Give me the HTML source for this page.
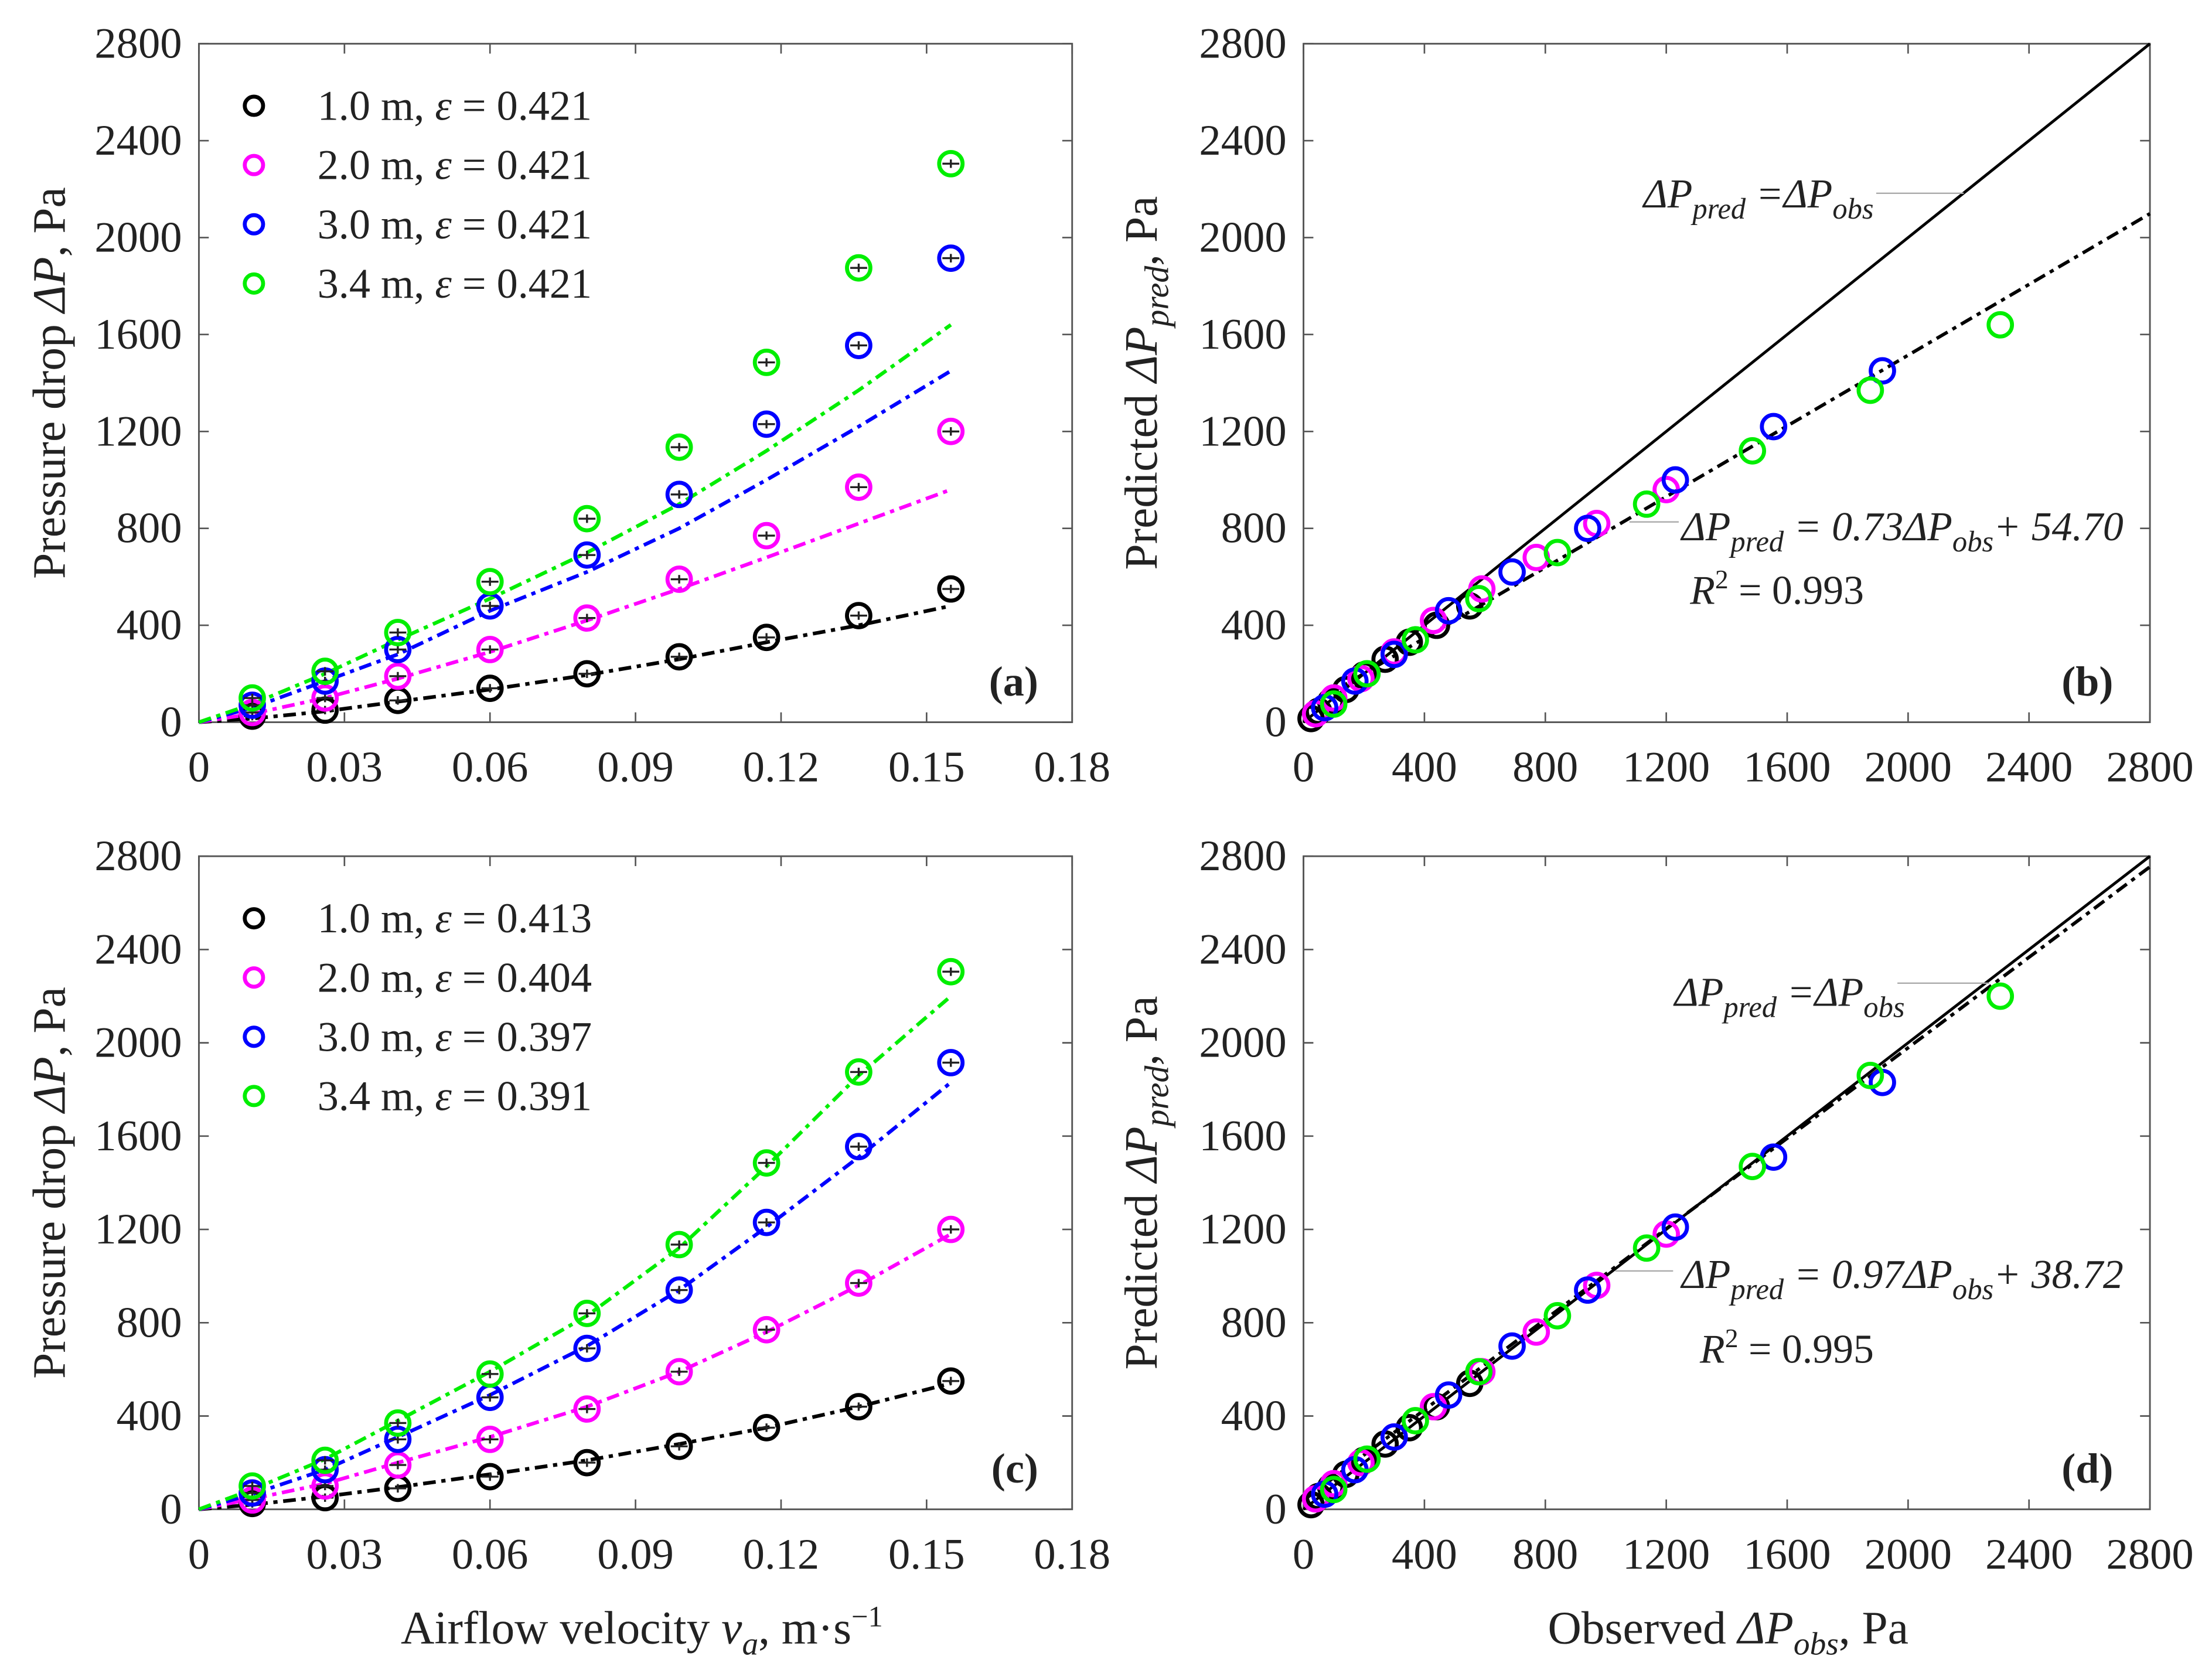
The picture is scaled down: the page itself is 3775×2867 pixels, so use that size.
<!DOCTYPE html>
<html><head><meta charset="utf-8"><style>
html,body{margin:0;padding:0;background:#fff;}
svg{display:block;font-family:"Liberation Serif","DejaVu Serif",serif;}
svg text{font-family:"Liberation Serif","DejaVu Serif",serif;fill:#222;}
</style></head><body>
<svg id="fig" width="3775" height="2867" viewBox="0 0 1568 1191" preserveAspectRatio="none" font-family="Liberation Serif, DejaVu Serif, serif" xmlns="http://www.w3.org/2000/svg"></svg>
<script>
// ---- data ----
const velocities = [0.011, 0.026, 0.041, 0.060, 0.080, 0.099, 0.117, 0.136, 0.155];
const fitVelocities = [0, 0.011, 0.026, 0.041, 0.060, 0.080, 0.099, 0.117, 0.136, 0.155];
const seriesColors = ['#000000', '#ff00ff', '#0000ff', '#00ee00'];
const legendA = ['1.0 m, ', '2.0 m, ', '3.0 m, ', '3.4 m, '];
const epsA = ['0.421', '0.421', '0.421', '0.421'];
const epsC = ['0.413', '0.404', '0.397', '0.391'];
const obs1 = [25, 50, 90, 140, 200, 270, 350, 440, 550];
const obs2 = [40, 100, 190, 300, 430, 590, 770, 970, 1200];
const obs3 = [70, 170, 300, 480, 690, 940, 1230, 1555, 1915];
const obs4 = [100, 210, 370, 580, 840, 1135, 1485, 1875, 2305];
const fitA1 = [0, 15, 45, 85, 135, 195, 260, 330, 400, 480];
const fitA2 = [0, 35, 100, 180, 290, 420, 550, 680, 820, 960];
const fitA3 = [0, 60, 170, 280, 460, 620, 800, 1000, 1220, 1450];
const fitA4 = [0, 75, 200, 340, 510, 700, 900, 1120, 1370, 1640];
const fitC1 = [0, 20, 55, 95, 150, 210, 280, 350, 440, 540];
const fitC2 = [0, 45, 110, 200, 310, 440, 590, 760, 960, 1180];
const fitC3 = [0, 65, 170, 310, 490, 700, 940, 1210, 1510, 1830];
const fitC4 = [0, 85, 215, 380, 590, 830, 1120, 1470, 1860, 2200];
const regB = [0.73, 54.70];
const regD = [0.97, 38.72];
const xTicksV = [0, 0.03, 0.06, 0.09, 0.12, 0.15, 0.18];
const xTickLabelsV = ['0', '0.03', '0.06', '0.09', '0.12', '0.15', '0.18'];
const pTicks = [0, 400, 800, 1200, 1600, 2000, 2400, 2800];

const svg = document.getElementById('fig');
const NS = 'http://www.w3.org/2000/svg';
const FONT = 'Liberation Serif, DejaVu Serif, serif';
function el(tag, attrs, parent) {
  const e = document.createElementNS(NS, tag);
  for (const k in attrs) e.setAttribute(k, attrs[k]);
  if (tag === 'text') e.setAttribute('font-family', FONT);
  (parent || svg).appendChild(e);
  return e;
}
const obsAll = [obs1, obs2, obs3, obs4];
const fitAAll = [fitA1, fitA2, fitA3, fitA4];
const fitCAll = [fitC1, fitC2, fitC3, fitC4];

function makePanel(name, L, R, T, B, xmax, xTicks, xLabels) {
  const g = el('g', {});
  
  
  const sx = v => L + (v / xmax) * (R - L);
  const sy = v => B - (v / 2800) * (B - T);
  const frame = el('rect', {x: L, y: T, width: R - L, height: B - T, fill: 'none', stroke: '#555', 'stroke-width': 1.2}, g);
  
  
  xTicks.forEach((t, i) => {
    const x = sx(t);
    el('line', {x1: x, y1: B, x2: x, y2: B - 7, stroke: '#555', 'stroke-width': 1.1}, g);
    el('line', {x1: x, y1: T, x2: x, y2: T + 7, stroke: '#555', 'stroke-width': 1.1}, g);
    const tx = el('text', {x: x, y: B + 42, 'font-size': 31, 'text-anchor': 'middle'}, g);
    tx.textContent = xLabels[i];
    
    
  });
  pTicks.forEach(t => {
    const y = sy(t);
    el('line', {x1: L, y1: y, x2: L + 7, y2: y, stroke: '#555', 'stroke-width': 1.1}, g);
    el('line', {x1: R, y1: y, x2: R - 7, y2: y, stroke: '#555', 'stroke-width': 1.1}, g);
    const ty = el('text', {x: L - 12, y: y + 10, 'font-size': 31, 'text-anchor': 'end'}, g);
    ty.textContent = String(t);
    
    
  });
  return {g, sx, sy};
}

function ring(g, x, y, color, r) {
  const c = el('circle', {cx: x, cy: y, r: r || 8.3, fill: 'none', stroke: color, 'stroke-width': 2.8}, g);
  
  
  return c;
}

function velocityPanel(name, T, B, fits, eps, tag) {
  const P = makePanel(name, 141, 760, T, B, 0.18, xTicksV, xTickLabelsV);
  fits.forEach((f, s) => {
    const d = f.map((v, i) => (i ? 'L' : 'M') + P.sx(fitVelocities[i]).toFixed(2) + ' ' + P.sy(v).toFixed(2)).join(' ');
    const p = el('path', {d: d, fill: 'none', stroke: seriesColors[s], 'stroke-width': 2.6, 'stroke-dasharray': '9 4 3 4'}, P.g);
    
    
  });
  obsAll.forEach((o, s) => {
    o.forEach((v, i) => {
      const x = P.sx(velocities[i]), y = P.sy(v);
      ring(P.g, x, y, seriesColors[s]);
      const eb = el('path', {d: `M${x-6} ${y} H${x+6} M${x} ${y-3} V${y+3}`, stroke: '#222', 'stroke-width': 1.4, fill: 'none'}, P.g);
      
      
    });
  });
  const ly0 = T + 44;
  legendA.forEach((lab, s) => {
    const y = ly0 + s * 42;
    const m = el('circle', {cx: 180, cy: y, r: 6.5, fill: 'none', stroke: seriesColors[s], 'stroke-width': 2.8}, P.g);
    
    
    const t = el('text', {x: 225, y: y + 10, 'font-size': 30}, P.g);
    t.innerHTML = lab + '<tspan font-style="italic">ε</tspan> = ' + eps[s];
    
    
  });
  const pl = el('text', {x: 736, y: B - 19, 'font-size': 30, 'font-weight': 'bold', 'text-anchor': 'end'}, P.g);
  pl.textContent = tag;
  
  
  const cy = (T + B) / 2;
  const yl = el('text', {x: 0, y: 0, 'font-size': 33, 'text-anchor': 'middle', transform: `translate(46 ${cy}) rotate(-90)`}, P.g);
  yl.innerHTML = 'Pressure drop <tspan font-style="italic">ΔP</tspan>, Pa';
  
  
}

function parityPanel(name, T, B, fits, reg, tag, ann) {
  const P = makePanel(name, 924, 1524, T, B, 2800, pTicks, pTicks.map(String));
  const id = el('line', {x1: P.sx(0), y1: P.sy(0), x2: P.sx(2800), y2: P.sy(2800), stroke: '#000', 'stroke-width': 2}, P.g);
  
  
  const rl = el('line', {x1: P.sx(0), y1: P.sy(reg[1]), x2: P.sx(2800), y2: P.sy(reg[0] * 2800 + reg[1]), stroke: '#000', 'stroke-width': 2.4, 'stroke-dasharray': '9 4 3 4'}, P.g);
  
  
  obsAll.forEach((o, s) => {
    o.forEach((v, i) => ring(P.g, P.sx(v), P.sy(fits[s][i + 1]), seriesColors[s]));
  });
  el('line', {x1: ann.l1[0], y1: ann.l1[2], x2: ann.l1[1], y2: ann.l1[2], stroke: '#aaa', 'stroke-width': 1}, P.g);
  el('line', {x1: ann.l2[0], y1: ann.l2[2], x2: ann.l2[1], y2: ann.l2[2], stroke: '#aaa', 'stroke-width': 1}, P.g);
  const a1 = el('text', {x: ann.t1[0], y: ann.t1[1], 'font-size': 29, 'font-style': 'italic'}, P.g);
  a1.innerHTML = 'ΔP<tspan font-size="21" dy="8">pred</tspan><tspan dy="-8"> =ΔP</tspan><tspan font-size="21" dy="8">obs</tspan>';
  
  
  const a2 = el('text', {x: ann.t2[0], y: ann.t2[1], 'font-size': 29, 'font-style': 'italic'}, P.g);
  a2.innerHTML = 'ΔP<tspan font-size="21" dy="8">pred</tspan><tspan dy="-8"> = ' + reg[0].toFixed(2) + 'ΔP</tspan><tspan font-size="21" dy="8">obs</tspan><tspan dy="-8">+ ' + reg[1].toFixed(2) + '</tspan>';
  
  
  const a3 = el('text', {x: ann.t3[0], y: ann.t3[1], 'font-size': 29}, P.g);
  a3.innerHTML = '<tspan font-style="italic">R</tspan><tspan font-size="19" dy="-11">2</tspan><tspan dy="11"> = ' + ann.r2 + '</tspan>';
  
  
  const pl = el('text', {x: 1498, y: B - 19, 'font-size': 30, 'font-weight': 'bold', 'text-anchor': 'end'}, P.g);
  pl.textContent = tag;
  
  
  const cy = (T + B) / 2;
  const yl = el('text', {x: 0, y: 0, 'font-size': 33, 'text-anchor': 'middle', transform: `translate(820 ${cy}) rotate(-90)`}, P.g);
  yl.innerHTML = 'Predicted <tspan font-style="italic">ΔP</tspan><tspan font-style="italic" font-size="24" dy="8">pred</tspan><tspan dy="-8">, Pa</tspan>';
  
  
}

velocityPanel('panel-a', 31, 512, fitAAll, epsA, '(a)');
velocityPanel('panel-c', 607, 1070, fitCAll, epsC, '(c)');
parityPanel('panel-b', 31, 512, fitAAll, regB, '(b)',
  {l1: [1330, 1392, 137], l2: [1155, 1190, 370], t1: [1165, 147], t2: [1192, 383], t3: [1198, 428], r2: '0.993'});
parityPanel('panel-d', 607, 1070, fitCAll, regD, '(d)',
  {l1: [1345, 1410, 697], l2: [1145, 1186, 901], t1: [1187, 713], t2: [1192, 913], t3: [1205, 966], r2: '0.995'});

const xl1 = el('text', {x: 455, y: 1165, 'font-size': 33, 'text-anchor': 'middle'});
xl1.innerHTML = 'Airflow velocity <tspan font-style="italic">v</tspan><tspan font-style="italic" font-size="23" dy="8">a</tspan><tspan dy="-8">, m·s</tspan><tspan font-size="21" dy="-12">−1</tspan>';


const xl2 = el('text', {x: 1225, y: 1165, 'font-size': 33, 'text-anchor': 'middle'});
xl2.innerHTML = 'Observed <tspan font-style="italic">ΔP</tspan><tspan font-style="italic" font-size="23" dy="8">obs</tspan><tspan dy="-8">, Pa</tspan>';


</script>
</body></html>
